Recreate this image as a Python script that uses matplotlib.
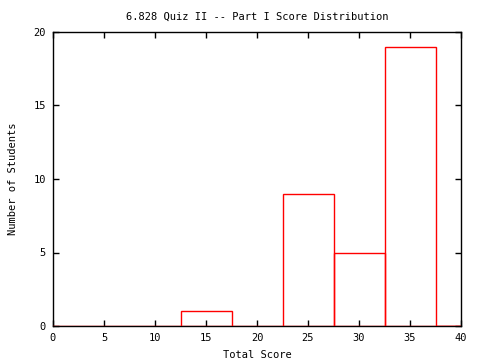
import matplotlib
matplotlib.use("Agg")
import matplotlib.pyplot as plt

# score bins (centers) and counts
scores = [0, 5, 10, 15, 20, 25, 30, 35, 40]
counts = [0, 0, 0, 1, 0, 9, 5, 19, 0]
xticks = [0, 5, 10, 15, 20, 25, 30, 35, 40]
yticks = [0, 5, 10, 15, 20]

plt.rcParams["font.family"] = "DejaVu Sans Mono"
plt.rcParams["font.size"] = 7.5

fig = plt.figure(figsize=(4.8, 3.6), dpi=100)
ax = fig.add_axes([53 / 480, 34 / 360, 408 / 480, 294 / 360])

ax.bar(scores, counts, width=5, facecolor="none", edgecolor="red",
       linewidth=1, zorder=3, clip_on=True)

ax.set_xlim(0, 40)
ax.set_ylim(0, 20)
ax.set_xticks(xticks)
ax.set_yticks(yticks)
ax.tick_params(direction="in", top=True, right=True, length=4, width=1, pad=5)
for s in ax.spines.values():
    s.set_linewidth(1)

ax.set_title("6.828 Quiz II -- Part I Score Distribution", fontsize=7.5, pad=9)
ax.set_xlabel("Total Score", labelpad=5)
ax.set_ylabel("Number of Students", labelpad=11)

fig.savefig("out.png", dpi=100)
